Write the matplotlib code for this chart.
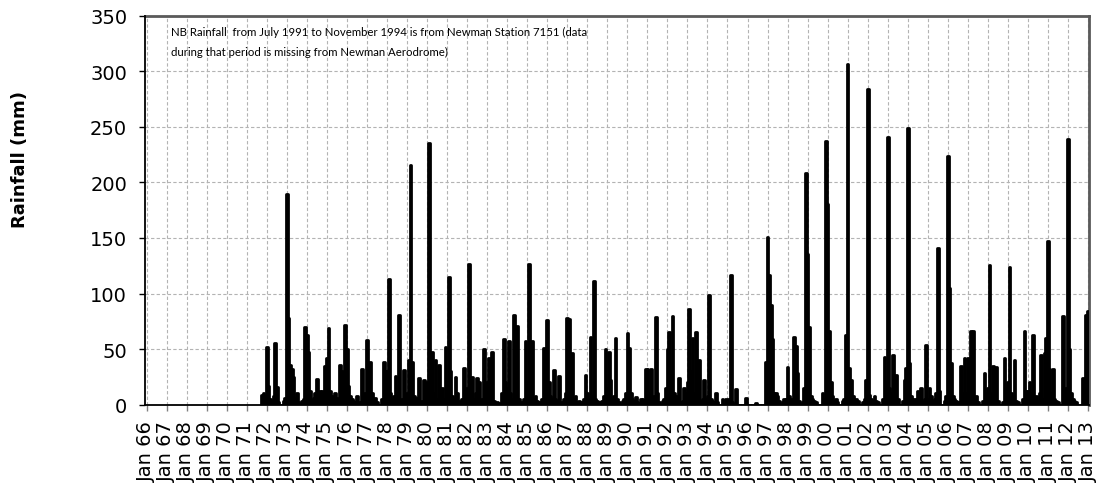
import numpy as np
import matplotlib
matplotlib.use("Agg")
import matplotlib.pyplot as plt

# Monthly rainfall (mm), Newman; series starts October 1971
rain_1971 = [9, 10, 8]
rain_1970s = [
    52, 17, 5, 3, 8, 55, 16, 2, 0, 0, 3, 6,          # 1972
    190, 78, 36, 32, 25, 6, 10, 2, 0, 3, 5, 70,      # 1973
    63, 47, 12, 4, 6, 10, 23, 3, 12, 12, 5, 35,      # 1974
    42, 69, 12, 8, 5, 10, 6, 2, 36, 30, 12, 72,      # 1975
    50, 17, 8, 5, 3, 2, 8, 0, 2, 32, 5, 10,          # 1976
    58, 12, 38, 10, 3, 6, 2, 0, 0, 5, 38, 30,        # 1977
    30, 113, 10, 5, 8, 26, 10, 81, 2, 5, 31, 8,      # 1978
    10, 40, 216, 38, 8, 5, 6, 24, 0, 3, 22, 10,      # 1979
]
rain_1980s = [
    20, 236, 30, 47, 10, 40, 5, 36, 3, 15, 5, 52,    # 1980
    20, 115, 30, 8, 5, 25, 10, 3, 0, 5, 33, 10,      # 1981
    15, 127, 8, 25, 5, 10, 24, 20, 2, 5, 50, 12,     # 1982
    20, 42, 10, 47, 3, 1, 2, 1, 0, 10, 59, 20,       # 1983
    15, 57, 10, 5, 81, 10, 71, 5, 0, 2, 5, 57,       # 1984
    20, 127, 10, 57, 5, 8, 3, 2, 0, 5, 51, 10,       # 1985
    76, 20, 8, 5, 31, 5, 3, 26, 0, 2, 5, 10,         # 1986
    78, 77, 10, 46, 5, 8, 2, 3, 0, 2, 5, 27,         # 1987
    10, 5, 61, 8, 111, 5, 3, 2, 0, 3, 8, 50,         # 1988
    15, 47, 22, 5, 8, 60, 5, 2, 0, 3, 5, 10,         # 1989
]
rain_1990s = [
    64, 51, 10, 5, 3, 7, 2, 1, 5, 5, 4, 32,          # 1990
    32, 10, 32, 5, 8, 79, 10, 2, 0, 3, 5, 15,        # 1991
    50, 65, 30, 80, 10, 8, 5, 24, 2, 3, 15, 10,      # 1992
    20, 86, 30, 60, 10, 65, 8, 40, 3, 5, 22, 5,      # 1993
    8, 99, 5, 3, 2, 10, 2, 0, 0, 5, 0, 5,            # 1994
    3, 5, 117, 2, 0, 14, 0, 0, 0, 0, 0, 6,           # 1995
    0, 0, 0, 0, 0, 1, 0, 0, 0, 0, 0, 38,             # 1996
    151, 117, 90, 59, 10, 10, 8, 3, 0, 2, 5, 5,      # 1997
    34, 8, 5, 3, 61, 53, 28, 3, 0, 2, 15, 209,       # 1998
    136, 70, 8, 5, 3, 2, 0, 0, 0, 10, 5, 237,        # 1999
]
rain_2000s = [
    181, 66, 20, 8, 3, 5, 2, 0, 0, 3, 5, 63,         # 2000
    307, 33, 22, 8, 2, 5, 3, 0, 0, 2, 5, 22,         # 2001
    284, 9, 5, 3, 8, 3, 2, 0, 0, 5, 43, 20,          # 2002
    241, 15, 10, 45, 8, 27, 5, 0, 0, 3, 22, 33,      # 2003
    249, 37, 8, 5, 3, 5, 12, 2, 15, 2, 5, 54,        # 2004
    5, 15, 8, 3, 5, 10, 141, 12, 0, 0, 3, 8,         # 2005
    224, 105, 37, 8, 5, 3, 2, 0, 35, 10, 42, 10,     # 2006
    42, 20, 66, 66, 5, 8, 2, 0, 0, 3, 28, 10,        # 2007
    15, 126, 10, 35, 5, 34, 3, 0, 0, 2, 42, 15,      # 2008
    20, 124, 10, 8, 40, 3, 2, 0, 0, 5, 66, 12,       # 2009
]
rain_2010s = [
    12, 20, 10, 63, 5, 8, 3, 10, 45, 5, 46, 60,      # 2010
    147, 32, 10, 32, 5, 3, 2, 0, 0, 80, 10, 15,      # 2011
    239, 50, 10, 5, 3, 2, 0, 0, 0, 24, 5, 81,        # 2012
    84, 39,                                          # 2013
]

first_year = 1966
last_year = 2013
tick_years = list(range(first_year, last_year + 1))
tick_labels = [f"Jan {y % 100:02d}" for y in tick_years]
note = ("NB Rainfall  from July 1991 to November 1994 is from Newman Station 7151 (data\n"
        "during that period is missing from Newman Aerodrome)")

rain = np.array(rain_1971 + rain_1970s + rain_1980s + rain_1990s + rain_2000s + rain_2010s,
                dtype=float)
start_month = (1971 - first_year) * 12 + 9          # October 1971
months = np.arange(start_month, start_month + len(rain))

W, H = 1098, 485
fig = plt.figure(figsize=(W / 100, H / 100), dpi=100)
left, right, top, bottom = 145, 1089, 17, 405.5
ax = fig.add_axes([left / W, 1 - bottom / H, (right - left) / W, (bottom - top) / H])

ax.bar(months, rain, width=1.0, align="center", color="black", edgecolor="black",
       linewidth=2.0, joinstyle="round", zorder=3)

ax.set_xlim(-1.0, 564.6)
ax.set_ylim(0, 350)
ax.set_yticks(np.arange(0, 351, 50))
ax.set_xticks([(y - first_year) * 12 for y in tick_years])
ax.set_xticklabels(tick_labels, rotation=90)

ax.grid(True, which="major", linestyle=(0, (3, 2)), color="#b3b3b3", lw=0.8, zorder=0)
ax.set_axisbelow(True)

for side in ("left", "bottom"):
    ax.spines[side].set_color("black")
    ax.spines[side].set_linewidth(1.3)
    ax.spines[side].set_zorder(4)
for side in ("top", "right"):
    ax.spines[side].set_color("#5a5a5a")
    ax.spines[side].set_linewidth(2.0)

ax.tick_params(axis="y", length=4.3, width=1.0, color="black", pad=8.5, labelsize=14)
ax.tick_params(axis="x", length=4.3, width=1.0, color="#808080", pad=7.0, labelsize=14)

fig.text(20 / W, 1 - 160 / H, "Rainfall (mm)", rotation=90, fontsize=13,
         fontweight="bold", ha="center", va="center")

fig.text(171 / W, 1 - 27 / H, note, fontsize=8.2, family=["Lato", "DejaVu Sans"],
         ha="left", va="top", linespacing=1.95)

fig.savefig("out.png", dpi=100)
